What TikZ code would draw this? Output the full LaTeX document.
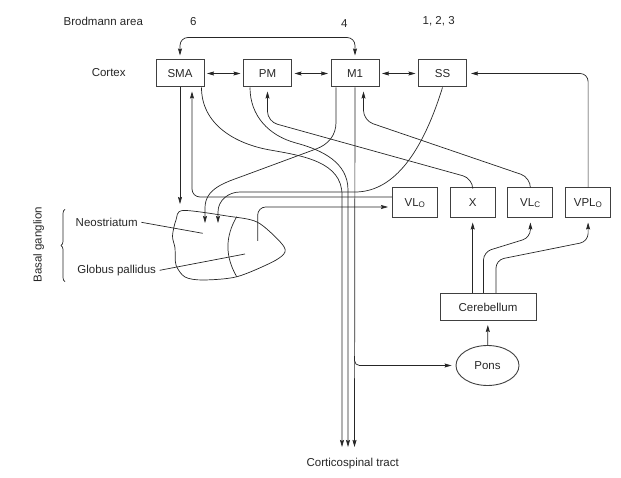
\documentclass[tikz,border=0pt]{standalone}
\usepackage{fontspec}
\setmainfont{Liberation Sans}
\usetikzlibrary{arrows.meta,calc,positioning,decorations.pathreplacing,shapes.geometric}
\tikzset{
    >={Stealth[length=7pt,width=4pt,inset=1pt]},
    boks/.style={
           rectangle,
           draw=black!75, line width=1pt,
           minimum width=48pt,
           minimum height=27pt,
           inner sep=0pt,
           text centered},
    lille/.style={
           boks,
           minimum width=45pt,
           minimum height=30pt},
    oval/.style={
           ellipse,
           draw=black!75, line width=0.9pt,
           minimum width=63pt,
           minimum height=40pt,
           inner sep=0pt},
    pil/.style={
           ->,
           shorten >=4pt}
}

\begin{document}
\begin{tikzpicture}[x=1pt, y=1pt, node distance=38.5pt, auto,
    color=black!85, line width=0.7pt, font=\fontsize{11.5}{13}\selectfont]
\useasboundingbox (0,0) rectangle (621,-478);
        % cortex
        \node[boks] (SMA) at (180,-73.5) {SMA};
        \node[boks, right=of SMA] (PM) {PM};
        \node[boks, right=of PM] (M1) {M1};
        \node[boks, right=of M1] (SS) {SS};
        % thalamus and the rest
        \node[lille] (VLo) at (415,-203) {VL\textsubscript{O}};
        \node[lille, right=11.7pt of VLo] (X) {X};
        \node[lille, right=11.7pt of X] (VLc) {VL\textsubscript{C}};
        \node[lille, right=11.7pt of VLc] (VPLo) {VPL\textsubscript{O}};
        \node[boks, minimum width=96pt] (Cb) at (488,-307) {Cerebellum};
        \node[oval] (Pons) at (487.5,-365.5) {Pons};
        % texts
        \node (brod) at (103.3,-21.3) {Brodmann area};
        \node (a6) at (193.3,-21.3) {6};
        \node (a4) at (344.3,-24) {4};
        \node (a123) at (438.7,-21.7) {1, 2, 3};
        \node (cortex) at (108.7,-72.7) {Cortex};
        \node (neo) at (106.7,-222.3) {Neostriatum};
        \node (gp) at (116.7,-270.3) {Globus pallidus};
        \node[rotate=90] (bg) at (38.7,-244.7) {Basal ganglion};
        \node (ct) at (352.7,-463.3) {Corticospinal tract};
        \coordinate (ns) at (202.7,-233.3);
        \coordinate (gpin) at (245,-254);
        \coordinate (gpout) at (257.7,-241);
        \coordinate (t1) at (342,-447);
        \coordinate (t2) at (348,-447);
        \coordinate (t3) at (354.5,-447);
        \coordinate (br) at (354.5,-356);
        % basal ganglia
        \draw plot[smooth cycle] coordinates {(183,-210.5) (227,-216) (257,-222)
            (280,-241.7) (285,-252) (273,-261.7) (237,-276.7) (203,-280)
            (185,-277) (176,-265) (175,-248) (172.5,-236) (176,-220)};
        \draw (236.7,-216.7) to[bend right=30] (236.7,-276.7);
        \draw[decorate, decoration={brace, amplitude=4pt}] (65,-281.7) -- (65,-209.3);
        \draw (neo.east) -- (ns);
        \draw (gp.east) -- (gpin);
        % cortex links
        \draw[pil, <->, shorten <=2.5pt, shorten >=2.5pt] (SMA) -- (PM);
        \draw[pil, <->, shorten <=2.5pt, shorten >=2.5pt] (PM) -- (M1);
        \draw[pil, <->, shorten <=2.5pt, shorten >=2.5pt] (M1) -- (SS);
        \draw[pil, <->, shorten <=4pt, rounded corners=8pt] (SMA.north) -- ++(0,22) -| (M1.north);
        \draw[pil, rounded corners=8pt] (VPLo.north) |- (SS.east);
        % to basal ganglia
        \draw[pil, shorten >=0pt] (SMA.south) -- (180,-204);
        \draw[pil, shorten >=0pt] ([xshift=-19pt]M1.south) -- ++(0,-35) to[out=-90,in=20] (316,-149)
            -- (243,-176) to[out=200,in=90] (205,-208) -- (205,-223);
        \draw[pil, shorten >=0pt] (SS.south) .. controls (420,-160) and (390,-192) .. (355,-192)
            -- (240,-192) to[out=180,in=90] (218,-212) -- (218,-223);
        \draw[pil, rounded corners=8pt] ([yshift=6pt]VLo.west) -| ([xshift=12pt]SMA.south);
        \draw[pil, rounded corners=8pt] (gpout) |- ([yshift=-4pt]VLo.west);
        % corticospinal tract
        \draw[pil, shorten >=0pt] ([xshift=21.5pt]SMA.south) to[out=-90,in=170] (270,-150)
            to[out=-10,in=90] (342,-195) -- (t1);
        \draw[pil, shorten >=0pt] ([xshift=-17.5pt]PM.south) to[out=-90,in=165] (296,-143)
            to[out=-15,in=90] (348,-190) -- (t2);
        \draw[pil, shorten >=0pt] (M1.south) -- (t3);
        \draw[pil, rounded corners=5pt] (br) |- (Pons.west);
        % thalamus to cortex
        \draw[pil, rounded corners=10pt] (X.north) -- ++(0,9) -- ([yshift=-34pt]PM.south) -- (PM.south);
        \draw[pil, rounded corners=10pt] (VLc.north) -- ++(0,10) -- ([xshift=8.5pt,yshift=-33pt]M1.south)
            -- ([xshift=8.5pt]M1.south);
        % cerebellum
        \draw[pil] (X.south |- Cb.north) -- (X.south);
        \draw[pil, rounded corners=8pt] ([xshift=-4.5pt]Cb.north) -- ++(0,41) -- ([yshift=-19pt]VLc.south)
            -- (VLc.south);
        \draw[pil, rounded corners=8pt] ([xshift=8pt]Cb.north) -- ++(0,33) -- ([yshift=-23pt]VPLo.south)
            -- (VPLo.south);
        \draw[pil] (Pons) -- (Cb);
    \end{tikzpicture}
\end{document}
